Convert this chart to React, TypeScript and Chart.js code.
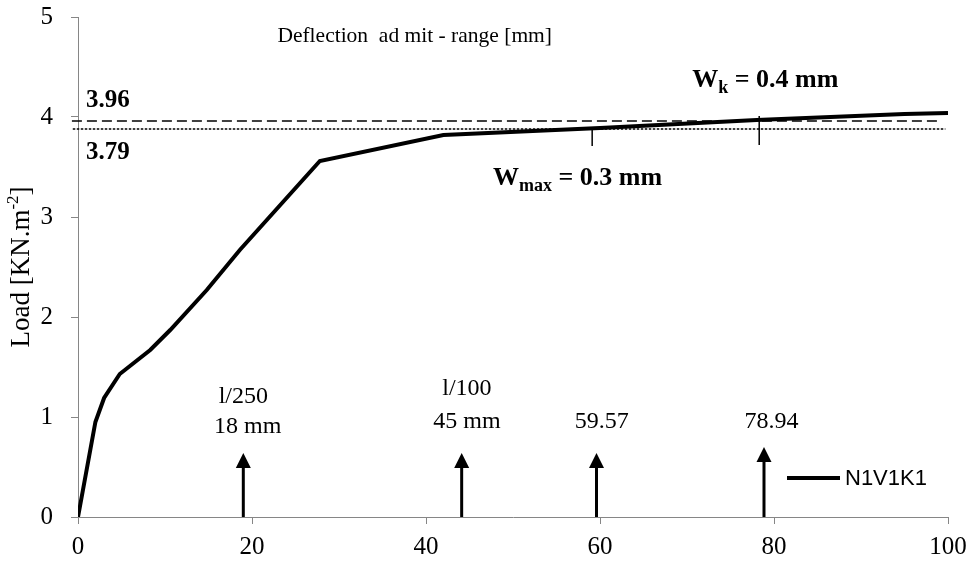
import React, { useEffect, useRef } from "react";
import { Chart, registerables } from "chart.js";

Chart.register(...registerables);

// ---- data ----
const seriesName = "N1V1K1";
const curveX = [0, 2, 3, 4.8, 8.3, 10.6, 14.8, 18.6, 27.8, 42, 60, 78, 95, 100];
const curveY = [0, 0.95, 1.19, 1.43, 1.67, 1.87, 2.27, 2.67, 3.56, 3.82, 3.89, 3.97, 4.03, 4.04];

const dashedX = [-0.7, 98.9];
const dashedY = [3.96, 3.96];
const dottedX = [-0.6, 99.7];
const dottedY = [3.88, 3.88];

const markerX = [59.1, 78.3];
const markerLow = [3.71, 3.72];
const markerHigh = [3.87, 4.01];

const arrowX = [19.0, 44.1, 59.6, 78.85];
const arrowTop = [0.64, 0.64, 0.64, 0.7];

const noteText = ["l/250", "18 mm", "l/100", "45 mm", "59.57", "78.94"];
const noteX = [19.0, 19.5, 44.7, 44.7, 60.2, 79.7];
const noteY = [1.14, 0.84, 1.22, 0.89, 0.89, 0.89];

const refText = ["3.96", "3.79"];
const refTextX = [0.92, 0.92];
const refTextY = [4.1, 3.58];

const headerText = "Deflection  ad mit - range [mm]";
const headerX = 38.7;
const headerY = 4.75;

const wLabels = [
  { main: "W", sub: "k", rest: " = 0.4 mm", x: 70.6, y: 4.3 },
  { main: "W", sub: "max", rest: " = 0.3 mm", x: 47.7, y: 3.32 },
];

const xTicksMin = 0;
const xTicksMax = 100;
const xStep = 20;
const yTicksMin = 0;
const yTicksMax = 5;
const yStep = 1;

const yTitleMain = "Load [KN.m";
const yTitleSup = "-2";
const yTitleEnd = "]";

const SERIF = '"Liberation Serif", "Times New Roman", serif';
const SANS = '"Liberation Sans", Arial, sans-serif';
const AXIS = "#868686";

function pts(xs: number[], ys: number[]) {
  return xs.map((v, i) => ({ x: v, y: ys[i] }));
}

const overlay = {
  id: "overlay",
  afterDatasetsDraw(chart: any) {
    const { ctx, chartArea } = chart;
    const x = chart.scales.x;
    const y = chart.scales.y;
    ctx.save();
    ctx.fillStyle = "#000";
    ctx.strokeStyle = "#000";

    // arrows
    arrowX.forEach((v, i) => {
      const px = x.getPixelForValue(v);
      const pb = y.getPixelForValue(0);
      const pt = y.getPixelForValue(arrowTop[i]);
      const head = 15;
      ctx.lineWidth = 3;
      ctx.beginPath();
      ctx.moveTo(px, pb);
      ctx.lineTo(px, pt + head - 1);
      ctx.stroke();
      ctx.beginPath();
      ctx.moveTo(px, pt);
      ctx.lineTo(px - 7.5, pt + head);
      ctx.lineTo(px + 7.5, pt + head);
      ctx.closePath();
      ctx.fill();
    });

    // notes
    ctx.font = `24px ${SERIF}`;
    ctx.textAlign = "center";
    ctx.textBaseline = "alphabetic";
    noteText.forEach((t, i) => {
      ctx.fillText(t, x.getPixelForValue(noteX[i]), y.getPixelForValue(noteY[i]));
    });

    // header
    ctx.font = `21.5px ${SERIF}`;
    ctx.fillText(headerText, x.getPixelForValue(headerX), y.getPixelForValue(headerY));

    // ref labels
    ctx.font = `bold 25px ${SERIF}`;
    ctx.textAlign = "left";
    refText.forEach((t, i) => {
      ctx.fillText(t, x.getPixelForValue(refTextX[i]), y.getPixelForValue(refTextY[i]));
    });

    // W labels
    wLabels.forEach((w) => {
      let px = x.getPixelForValue(w.x);
      const py = y.getPixelForValue(w.y);
      ctx.font = `bold 26px ${SERIF}`;
      ctx.fillText(w.main, px, py);
      px += ctx.measureText(w.main).width;
      ctx.font = `bold 18px ${SERIF}`;
      ctx.fillText(w.sub, px, py + 6);
      px += ctx.measureText(w.sub).width;
      ctx.font = `bold 26px ${SERIF}`;
      ctx.fillText(w.rest, px, py);
    });

    // legend
    const ly = chartArea.bottom - 39;
    ctx.lineWidth = 4;
    ctx.beginPath();
    ctx.moveTo(chartArea.right - 161, ly);
    ctx.lineTo(chartArea.right - 108, ly);
    ctx.stroke();
    ctx.font = `22px ${SANS}`;
    ctx.textBaseline = "middle";
    ctx.textAlign = "left";
    ctx.fillText(seriesName, chartArea.right - 103, ly + 1);

    // y title
    ctx.save();
    ctx.translate(22, (chartArea.top + chartArea.bottom) / 2);
    ctx.rotate(-Math.PI / 2);
    ctx.textBaseline = "middle";
    ctx.font = `27px ${SERIF}`;
    const w1 = ctx.measureText(yTitleMain).width;
    ctx.font = `17px ${SERIF}`;
    const w2 = ctx.measureText(yTitleSup).width;
    ctx.font = `27px ${SERIF}`;
    const w3 = ctx.measureText(yTitleEnd).width;
    let sx = -(w1 + w2 + w3) / 2;
    ctx.fillText(yTitleMain, sx, 0);
    sx += w1;
    ctx.font = `17px ${SERIF}`;
    ctx.fillText(yTitleSup, sx, -8);
    sx += w2;
    ctx.font = `27px ${SERIF}`;
    ctx.fillText(yTitleEnd, sx, 0);
    ctx.restore();

    ctx.restore();
  },
};

export default function App() {
  const ref = useRef<HTMLCanvasElement | null>(null);
  useEffect(() => {
    if (!ref.current) return;
    const markerSets = markerX.map((mx, i) => ({
      label: "marker" + i,
      data: [
        { x: mx, y: markerLow[i] },
        { x: mx, y: markerHigh[i] },
      ],
      borderColor: "#000",
      borderWidth: 1.5,
      pointRadius: 0,
      order: 2,
    }));
    const chart = new Chart(ref.current, {
      type: "line",
      data: {
        datasets: [
          {
            label: seriesName,
            data: pts(curveX, curveY),
            borderColor: "#000",
            borderWidth: 4,
            pointRadius: 0,
            tension: 0,
            order: 0,
          },
          {
            label: "dashed",
            data: pts(dashedX, dashedY),
            borderColor: "#000",
            borderWidth: 1.5,
            borderDash: [10, 5],
            pointRadius: 0,
            clip: false,
            order: 1,
          } as any,
          {
            label: "dotted",
            data: pts(dottedX, dottedY),
            borderColor: "#000",
            borderWidth: 1.5,
            borderDash: [2.5, 1.5],
            pointRadius: 0,
            clip: false,
            order: 1,
          } as any,
          ...markerSets,
        ],
      },
      options: {
        animation: false,
        responsive: true,
        maintainAspectRatio: false,
        layout: { padding: { left: 0, right: 28, top: 17, bottom: 0 } },
        plugins: { legend: { display: false }, tooltip: { enabled: false } },
        scales: {
          x: {
            type: "linear",
            min: xTicksMin,
            max: xTicksMax,
            ticks: {
              stepSize: xStep,
              color: "#000",
              font: { family: SERIF, size: 25 },
              padding: 8,
              maxRotation: 0,
            },
            grid: { drawOnChartArea: false, drawTicks: true, tickLength: 7, color: AXIS },
            border: { display: true, color: AXIS, width: 1 },
            afterFit: (s: any) => {
              s.height = 46;
              s.paddingLeft = 0;
              s.paddingRight = 0;
            },
          },
          y: {
            type: "linear",
            min: yTicksMin,
            max: yTicksMax,
            ticks: {
              stepSize: yStep,
              color: "#000",
              font: { family: SERIF, size: 25 },
              padding: 18,
            },
            grid: { drawOnChartArea: false, drawTicks: true, tickLength: 7, color: AXIS },
            border: { display: true, color: AXIS, width: 1 },
            afterFit: (s: any) => {
              s.width = 78;
              s.paddingTop = 0;
              s.paddingBottom = 0;
            },
          },
        },
      },
      plugins: [overlay],
    });
    return () => chart.destroy();
  }, []);
  return (
    <div style={{ position: "absolute", left: 0, top: 0, width: 976, height: 563, background: "#fff" }}>
      <canvas ref={ref} />
    </div>
  );
}
